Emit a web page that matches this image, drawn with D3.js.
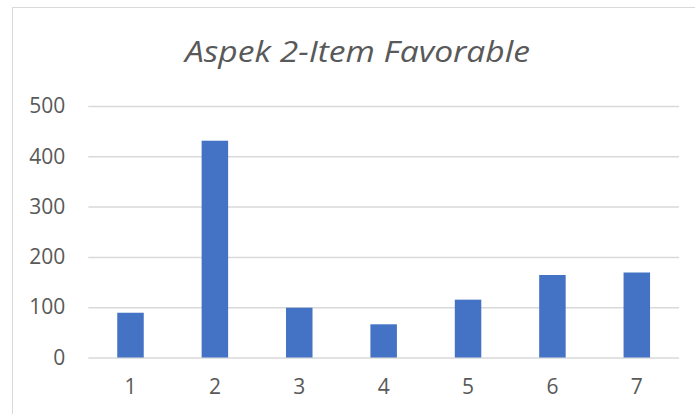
<!DOCTYPE html>
<html>
<head>
<meta charset="utf-8">
<script src="https://cdn.jsdelivr.net/npm/d3@7"></script>
<style>
  html, body { margin: 0; padding: 0; background: #fff; }
  svg { display: block; }
</style>
</head>
<body>
<svg id="chart" width="695" height="414"></svg>
<script>
// Item numbers and counts for "Aspek 2-Item Favorable"
const categories = ["1", "2", "3", "4", "5", "6", "7"];
const values = [89, 431, 99, 66, 115, 164, 169];
const yTicks = [0, 100, 200, 300, 400, 500];
const titleText = "Aspek 2-Item Favorable";

const svg = d3.select("#chart");

// chart area frame (extends past the right and bottom edges)
svg.append("rect")
  .attr("x", 12.5).attr("y", 7.5)
  .attr("width", 700).attr("height", 420)
  .attr("fill", "#fff")
  .attr("stroke", "#d9d9d9")
  .attr("stroke-width", 1);

const plot = { left: 88.3, right: 679, top: 106, bottom: 357.5 };

const x = d3.scaleBand()
  .domain(categories)
  .range([plot.left, plot.right])
  .paddingInner(0.686)
  .paddingOuter(0.343);

const y = d3.scaleLinear()
  .domain([0, 500])
  .range([plot.bottom, plot.top]);

// horizontal gridlines with value labels
const yAxis = d3.axisLeft(y)
  .tickValues(yTicks)
  .tickSize(-(plot.right - plot.left))
  .tickPadding(23);

const gy = svg.append("g")
  .attr("transform", `translate(${plot.left},0)`)
  .call(yAxis);
gy.select(".domain").remove();
gy.selectAll(".tick line")
  .attr("stroke", "#d9d9d9")
  .attr("stroke-width", 1.5);
gy.selectAll(".tick text")
  .attr("fill", "#595959")
  .style("font-family", "'Open Sans', sans-serif")
  .style("font-size", "21px");

// bars
svg.append("g")
  .selectAll("rect")
  .data(values)
  .join("rect")
  .attr("x", (d, i) => x(categories[i]))
  .attr("y", d => y(d))
  .attr("width", x.bandwidth())
  .attr("height", d => y(0) - y(d))
  .attr("fill", "#4472c4");

// category labels
const xAxis = d3.axisBottom(x).tickSize(0).tickPadding(22);
const gx = svg.append("g")
  .attr("transform", `translate(0,${plot.bottom})`)
  .call(xAxis);
gx.select(".domain").remove();
gx.selectAll(".tick text")
  .attr("fill", "#595959")
  .style("font-family", "'Open Sans', sans-serif")
  .style("font-size", "21px");

// title
svg.append("text")
  .attr("x", 357.5)
  .attr("y", 62)
  .attr("text-anchor", "middle")
  .attr("fill", "#595959")
  .attr("textLength", 345)
  .attr("lengthAdjust", "spacingAndGlyphs")
  .style("font-family", "'Open Sans', sans-serif")
  .style("font-style", "italic")
  .style("font-size", "30px")
  .text(titleText);
</script>
</body>
</html>
